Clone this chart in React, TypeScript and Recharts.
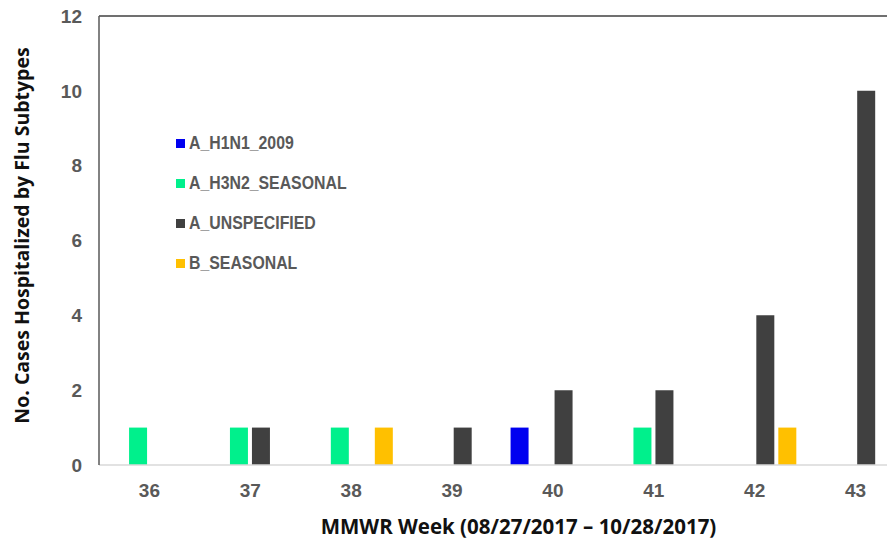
import { BarChart, Bar, XAxis, YAxis, ReferenceLine, Legend } from "recharts"

const weeks = ["36", "37", "38", "39", "40", "41", "42", "43"]
const h1n1 = [0, 0, 0, 0, 1, 0, 0, 0]
const h3n2 = [1, 1, 1, 0, 0, 1, 0, 0]
const unspecified = [0, 1, 0, 1, 2, 2, 4, 10]
const bSeasonal = [0, 0, 1, 0, 0, 0, 1, 0]
const yTicks = [0, 2, 4, 6, 8, 10, 12]

const series = [
  { key: "A_H1N1_2009", values: h1n1, color: "#0000f0" },
  { key: "A_H3N2_SEASONAL", values: h3n2, color: "#00f08c" },
  { key: "A_UNSPECIFIED", values: unspecified, color: "#404040" },
  { key: "B_SEASONAL", values: bSeasonal, color: "#ffc000" },
]

const data = weeks.map((week, i) => {
  const row: Record<string, string | number> = { week }
  series.forEach((s) => (row[s.key] = s.values[i]))
  return row
})

const ARIAL = "Arial, 'Liberation Sans', sans-serif"
const tickStyle = { fontFamily: ARIAL, fontSize: 19, fontWeight: 700, fill: "#595959" }

function LegendBox() {
  return (
    <div style={{ display: "flex", flexDirection: "column", gap: 20 }}>
      {series.map((s) => (
        <div key={s.key} style={{ display: "flex", alignItems: "center", height: 20 }}>
          <div style={{ width: 9, height: 9, background: s.color, marginRight: 4 }} />
          <span
            style={{
              fontFamily: ARIAL,
              fontSize: 18,
              fontWeight: 700,
              color: "#595959",
              display: "inline-block",
              transform: "scaleX(0.88)",
              transformOrigin: "left center",
              whiteSpace: "nowrap",
            }}
          >
            {s.key}
          </span>
        </div>
      ))}
    </div>
  )
}

export default function App() {
  return (
    <div style={{ width: 895, height: 550, overflow: "hidden", margin: -8, background: "#fff" }}>
      <BarChart
        width={910}
        height={550}
        data={data}
        margin={{ top: 16, right: 4, left: 0, bottom: 25 }}
        barCategoryGap="8%"
        barGap={4}
      >
        <XAxis
          dataKey="week"
          height={60}
          axisLine={{ stroke: "#d9d9d9", strokeWidth: 1.5 }}
          tickLine={false}
          tickMargin={13}
          tick={tickStyle}
          label={{
            content: (p: any) => {
              const vb = p.viewBox
              return (
                <text
                  x={vb.x + vb.width / 2 + 16}
                  y={vb.y + 69}
                  textAnchor="middle"
                  style={{ fontFamily: "'Open Sans', sans-serif", fontSize: 20.5, fontWeight: 700, fill: "#111" }}
                >
                  MMWR Week (08/27/2017 – 10/28/2017)
                </text>
              )
            },
          }}
        />
        <YAxis
          width={99}
          domain={[0, 12]}
          ticks={yTicks}
          interval={0}
          axisLine={{ stroke: "#595959", strokeWidth: 1.5 }}
          tickLine={false}
          tickMargin={11}
          tick={tickStyle}
          label={{
            content: (p: any) => {
              const vb = p.viewBox
              const cx = 21
              const cy = vb.y + vb.height / 2 - 5
              return (
                <text
                  x={cx}
                  y={cy}
                  transform={`rotate(-90, ${cx}, ${cy})`}
                  textAnchor="middle"
                  dominantBaseline="central"
                  style={{ fontFamily: "'Open Sans', sans-serif", fontSize: 19.5, fontWeight: 700, fill: "#111" }}
                >
                  No. Cases Hospitalized by Flu Subtypes
                </text>
              )
            },
          }}
        />
        <ReferenceLine y={12} stroke="#404040" strokeWidth={1.5} />
        <Legend
          layout="horizontal"
          verticalAlign="middle"
          align="center"
          content={() => <LegendBox />}
          wrapperStyle={{ left: 176, top: 133, width: 220, height: 140 }}
        />
        {series.map((s) => (
          <Bar key={s.key} dataKey={s.key} fill={s.color} isAnimationActive={false} />
        ))}
      </BarChart>
    </div>
  )
}
